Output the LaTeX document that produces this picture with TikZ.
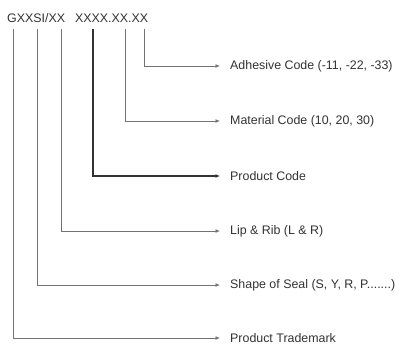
\documentclass[tikz,border=0pt]{standalone}
\usepackage{fontspec}
\setmainfont{Liberation Sans}
\usetikzlibrary{arrows.meta}
\begin{document}
\begin{tikzpicture}[x=1pt,y=-1pt,
  lead/.style={draw=black!55, line width=0.9pt, -{Latex[length=4.5pt,width=4pt]}},
  lbl/.style={anchor=west, inner sep=0pt, font=\fontsize{12.4}{14}\selectfont, text=black!80},
  hdr/.style={anchor=west, inner sep=0pt, font=\fontsize{12.4}{14}\selectfont, text=black!80}]
\useasboundingbox[fill=white] (0,0) rectangle (403,345);
\node[hdr] (code) at (7,18) {GXXSI/XX\hspace{0.8em}XXXX.XX.XX};
\foreach \n/\x in {a/144,b/125,c/93,d/61,e/37,f/13}{\coordinate (top\n) at (\x,29);}
\node[lbl] (la) at (230,66) {Adhesive Code (-11, -22, -33)};
\node[lbl] (lb) at (230,121) {Material Code (10, 20, 30)};
\node[lbl] (lc) at (230,176) {Product Code};
\node[lbl] (ld) at (230,231) {Lip \& Rib (L \& R)};
\node[lbl] (le) at (230,285) {Shape of Seal (S, Y, R, P.......)};
\node[lbl] (lf) at (230,338) {Product Trademark};
\foreach \n in {a,b,d,e,f}{\draw[lead] (top\n) |- ([xshift=-10pt]l\n.west);}
\draw[lead, draw=black!80, line width=1.2pt] (topc) |- ([xshift=-10pt]lc.west);
\end{tikzpicture}
\end{document}
